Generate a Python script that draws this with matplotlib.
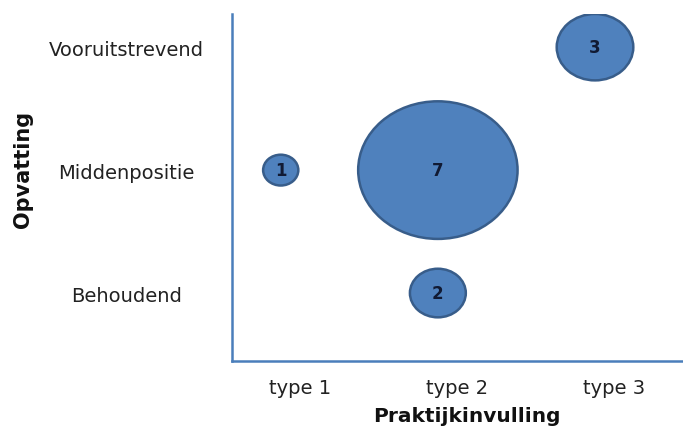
import matplotlib
matplotlib.use("Agg")
import matplotlib.pyplot as plt
from matplotlib.patches import Ellipse
from matplotlib.transforms import ScaledTranslation

# data
x_labels = ["type 1", "type 2", "type 3"]
y_labels = ["Behoudend", "Middenpositie", "Vooruitstrevend"]
bubble_x = [1, 2, 2, 3]
bubble_y = [2, 2, 1, 3]
bubble_n = [1, 7, 2, 3]

FILL = "#4f81bd"
EDGE = "#385d8a"
AXIS = "#4a7ebb"

fig = plt.figure(figsize=(6.83, 4.27), dpi=100)
ax = fig.add_axes([0.3397, 0.1522, 0.6603, 0.8127])
ax.set_xlim(0.69, 3.56)
ax.set_ylim(0.447, 3.27)

# pixels per data unit, so the bubbles can be sized in pixels
px_x = 0.6603 * 683 / (3.56 - 0.69)
px_y = 0.8127 * 427 / (3.27 - 0.447)

for x, y, n in zip(bubble_x, bubble_y, bubble_n):
    w = (14.5 + 20.7 * n) / px_x
    h = (13.0 + 17.8 * n) / px_y
    ax.add_patch(Ellipse((x, y), w, h, facecolor=FILL, edgecolor=EDGE,
                         linewidth=1.8, zorder=3))
    ax.text(x, y, str(n), ha="center", va="center", fontsize=12,
            fontweight="bold", color="#111a33", zorder=4)

for s in ["top", "right"]:
    ax.spines[s].set_visible(False)
for s in ["left", "bottom"]:
    ax.spines[s].set_color(AXIS)
    ax.spines[s].set_linewidth(1.8)

ax.set_xticks(range(1, len(x_labels) + 1))
ax.set_xticklabels(x_labels, fontsize=14, color="#222222")
ax.set_yticks(range(1, len(y_labels) + 1))
ax.set_yticklabels(y_labels, fontsize=14, color="#222222", ha="center")
ax.tick_params(length=0)
ax.tick_params(axis="x", pad=12)
ax.tick_params(axis="y", pad=76)

# tick labels in the original sit a bit right of the bubbles
for lab in ax.get_xticklabels():
    lab.set_transform(lab.get_transform() + ScaledTranslation(0.19, 0, fig.dpi_scale_trans))

fig.text(467 / 683, 1 - 417 / 427, "Praktijkinvulling", ha="center", va="center",
         fontsize=14.5, fontweight="bold", color="#111111")
fig.text(23 / 683, 1 - 169 / 427, "Opvatting", ha="center", va="center",
         rotation=90, fontsize=15, fontweight="bold", color="#111111")

fig.savefig("out.png", dpi=100, facecolor="white")
